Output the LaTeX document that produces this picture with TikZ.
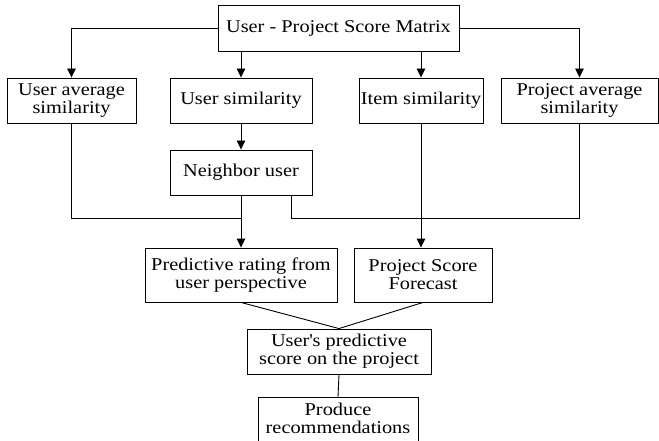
\documentclass[tikz,border=0pt]{standalone}
\usepackage{fontspec}
\setmainfont{Liberation Serif}[FakeStretch=1.13]
\usetikzlibrary{arrows.meta}

\begin{document}
\begin{tikzpicture}[x=1pt,y=-1pt,
  box/.style={draw,line width=0.9pt,inner sep=0pt,align=center,
    font=\fontsize{18}{18}\selectfont},
  link/.style={line width=0.9pt},
  arr/.style={link,-{Triangle[length=9pt,width=8.5pt]}}]
\clip (0,0) rectangle (659,441);
\fill[white] (0,0) rectangle (659,441);

% boxes, placed by their centres
\node[box,minimum width=241pt,minimum height=46pt] (top) at (338.5,28) {User - Project Score Matrix};
\node[box,minimum width=129pt,minimum height=45pt] (ua) at (71.5,100.5) {User average\\similarity};
\node[box,minimum width=142pt,minimum height=45pt] (us) at (241,100.5) {User similarity};
\node[box,minimum width=124pt,minimum height=45pt] (is) at (421,100.5) {Item similarity};
\node[box,minimum width=157pt,minimum height=45pt] (pa) at (579.5,100.5) {Project average\\similarity};
\node[box,minimum width=142pt,minimum height=45pt] (nu) at (241,172.5) {Neighbor user};
\node[box,minimum width=192pt,minimum height=54pt] (pr) at (241,275) {Predictive rating from\\user perspective};
\node[box,minimum width=138pt,minimum height=54pt] (psf) at (423,275) {Project Score\\Forecast};
\node[box,minimum width=184pt,minimum height=45pt] (up) at (339,351.5) {User\textquotesingle s predictive\\score on the project};
\node[box,minimum width=160pt,minimum height=64pt,anchor=north] (prod) at (338,397) {};
\node[font=\fontsize{18}{18}\selectfont,align=center,anchor=north] (prodtxt) at (338,399) {Produce\\recommendations};

% matrix to the four similarity boxes
\draw[arr] (top.west) -| (ua.north);
\draw[arr] (top.east) -| (pa.north);
\draw[arr] (us.north |- top.south) -- (us.north);
\draw[arr] (is.north |- top.south) -- (is.north);
\draw[arr] (us.south) -- (nu.north);

% collecting lines
\coordinate (jl) at (241,218);
\coordinate (nr) at (291,195);
\coordinate (jr) at (pa.south |- jl);
\draw[link] (ua.south) |- (jl);
\draw[arr] (nu.south) -- (nu.south |- pr.north);
\draw[link] (nr) |- (jr) -- (pa.south);
\draw[arr] (is.south) -- (is.south |- psf.north);

% combining the forecasts
\draw[link] (pr.south) -- (up.north);
\draw[link] (psf.south) -- (up.north);
\draw[link] (up.south) -- (prod.north);
\end{tikzpicture}
\end{document}
